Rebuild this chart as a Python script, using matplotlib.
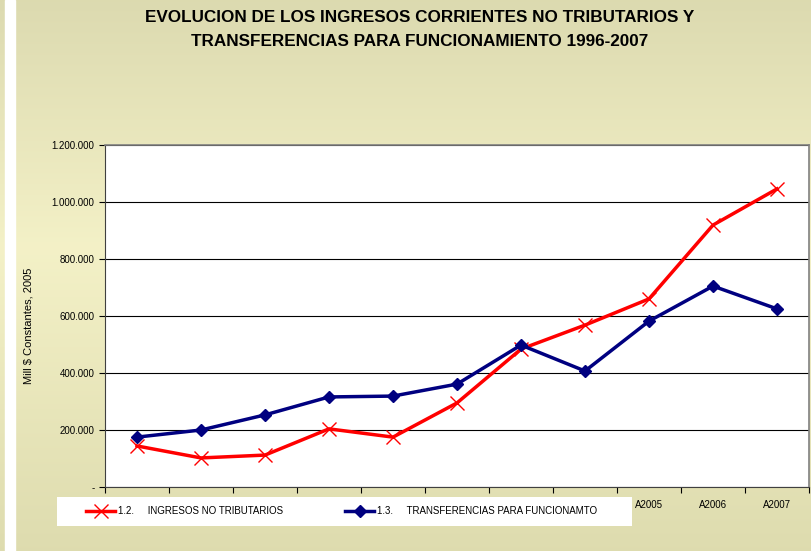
import numpy as np
import matplotlib
matplotlib.use('Agg')
import matplotlib.pyplot as plt
from matplotlib import font_manager
from matplotlib.patches import Rectangle

names = {f.name for f in font_manager.fontManager.ttflist}
narrow = 'Liberation Sans Narrow' if 'Liberation Sans Narrow' in names else 'Liberation Sans'
plt.rcParams['font.family'] = ['Liberation Sans', 'DejaVu Sans']

years = ['A1997', 'A1998', 'A1999', 'A2000', 'A2001', 'A2002',
         'A2003', 'A2004', 'A2005', 'A2006', 'A2007']
ingresos = [144000, 102000, 112000, 204000, 175000, 295000,
            484000, 568000, 660000, 919000, 1046000]
transfer = [175000, 200000, 253000, 316000, 319000, 361000,
            498000, 407000, 582000, 705000, 625000]
yticks = [0, 200000, 400000, 600000, 800000, 1000000, 1200000]
ylabels = ['-', '200.000', '400.000', '600.000', '800.000', '1.000.000', '1.200.000']

fig = plt.figure(figsize=(8.12, 5.51), dpi=100)

# background gradient
bg = fig.add_axes([0, 0, 1, 1], zorder=-10)
bg.set_axis_off()
top = np.array([0.863, 0.855, 0.69])
mid = np.array([0.955, 0.945, 0.78])
bot = np.array([0.87, 0.862, 0.685])
t = np.linspace(0, 1, 300)[:, None]
grad = np.where(t < 0.45, top + (mid - top) * (t / 0.45), mid + (bot - mid) * ((t - 0.45) / 0.55))
bg.imshow(grad[:, None, :].repeat(2, axis=1), aspect='auto', extent=[0, 1, 0, 1])
bg.axvspan(5 / 812, 15 / 812, color='white')
bg.set_xlim(0, 1)
bg.set_ylim(0, 1)

ax = fig.add_axes([105 / 812, 1 - 487 / 551, 704 / 812, 342 / 551])
ax.set_facecolor('white')
x = np.arange(len(years))
ax.plot(x, ingresos, color='#ff0000', lw=2.5, marker='x', ms=10, mew=1,
        label='1.2.     INGRESOS NO TRIBUTARIOS', zorder=3)
ax.plot(x, transfer, color='#000080', lw=2.5, marker='D', ms=6,
        label='1.3.     TRANSFERENCIAS PARA FUNCIONAMTO', zorder=4)

ax.set_xlim(-0.5, len(years) - 0.5)
ax.set_ylim(0, 1200000)
ax.set_yticks(yticks)
ax.set_yticklabels(ylabels, fontsize=7)
ax.set_xticks(x)
ax.set_xticklabels(years, fontsize=7)
# the legend box hides the first labels in the original
for lab in ax.get_xticklabels()[:8]:
    lab.set_visible(False)
ax.set_xticks(np.arange(-0.5, len(years), 1), minor=True)
ax.tick_params(axis='x', which='major', length=0, pad=9)
ax.tick_params(axis='x', which='minor', length=4, width=0.8, direction='out')
ax.tick_params(axis='y', length=4, width=0.8)
ax.grid(axis='y', color='black', lw=0.8)
ax.set_axisbelow(True)
for s in ['top', 'right']:
    ax.spines[s].set_color('#808080')
    ax.spines[s].set_linewidth(1.2)
for s in ['left', 'bottom']:
    ax.spines[s].set_color('#404040')
ax.set_ylabel('Mill $ Constantes, 2005', fontsize=8)
ax.yaxis.set_label_coords(-0.102, 0.47)

fig.text(0.517, 1 - 18 / 551, 'EVOLUCION DE LOS INGRESOS CORRIENTES NO TRIBUTARIOS Y',
         ha='center', va='center', fontsize=12.3, fontweight='bold', family=narrow)
fig.text(0.517, 1 - 42 / 551, 'TRANSFERENCIAS PARA FUNCIONAMIENTO 1996-2007',
         ha='center', va='center', fontsize=12.3, fontweight='bold', family=narrow)

# white legend box
fig.patches.append(Rectangle((57 / 812, 1 - 526 / 551), 575 / 812, 29 / 551,
                             transform=fig.transFigure, facecolor='white',
                             edgecolor='none', zorder=10))
leg = fig.legend(loc='center left', bbox_to_anchor=(86 / 812, 1 - 511 / 551),
                 ncol=2, fontsize=7, frameon=False,
                 handlelength=3.0, handletextpad=0.25, columnspacing=6.4,
                 borderaxespad=0, borderpad=0)
leg.set_zorder(20)

fig.savefig('out.png', dpi=100)
